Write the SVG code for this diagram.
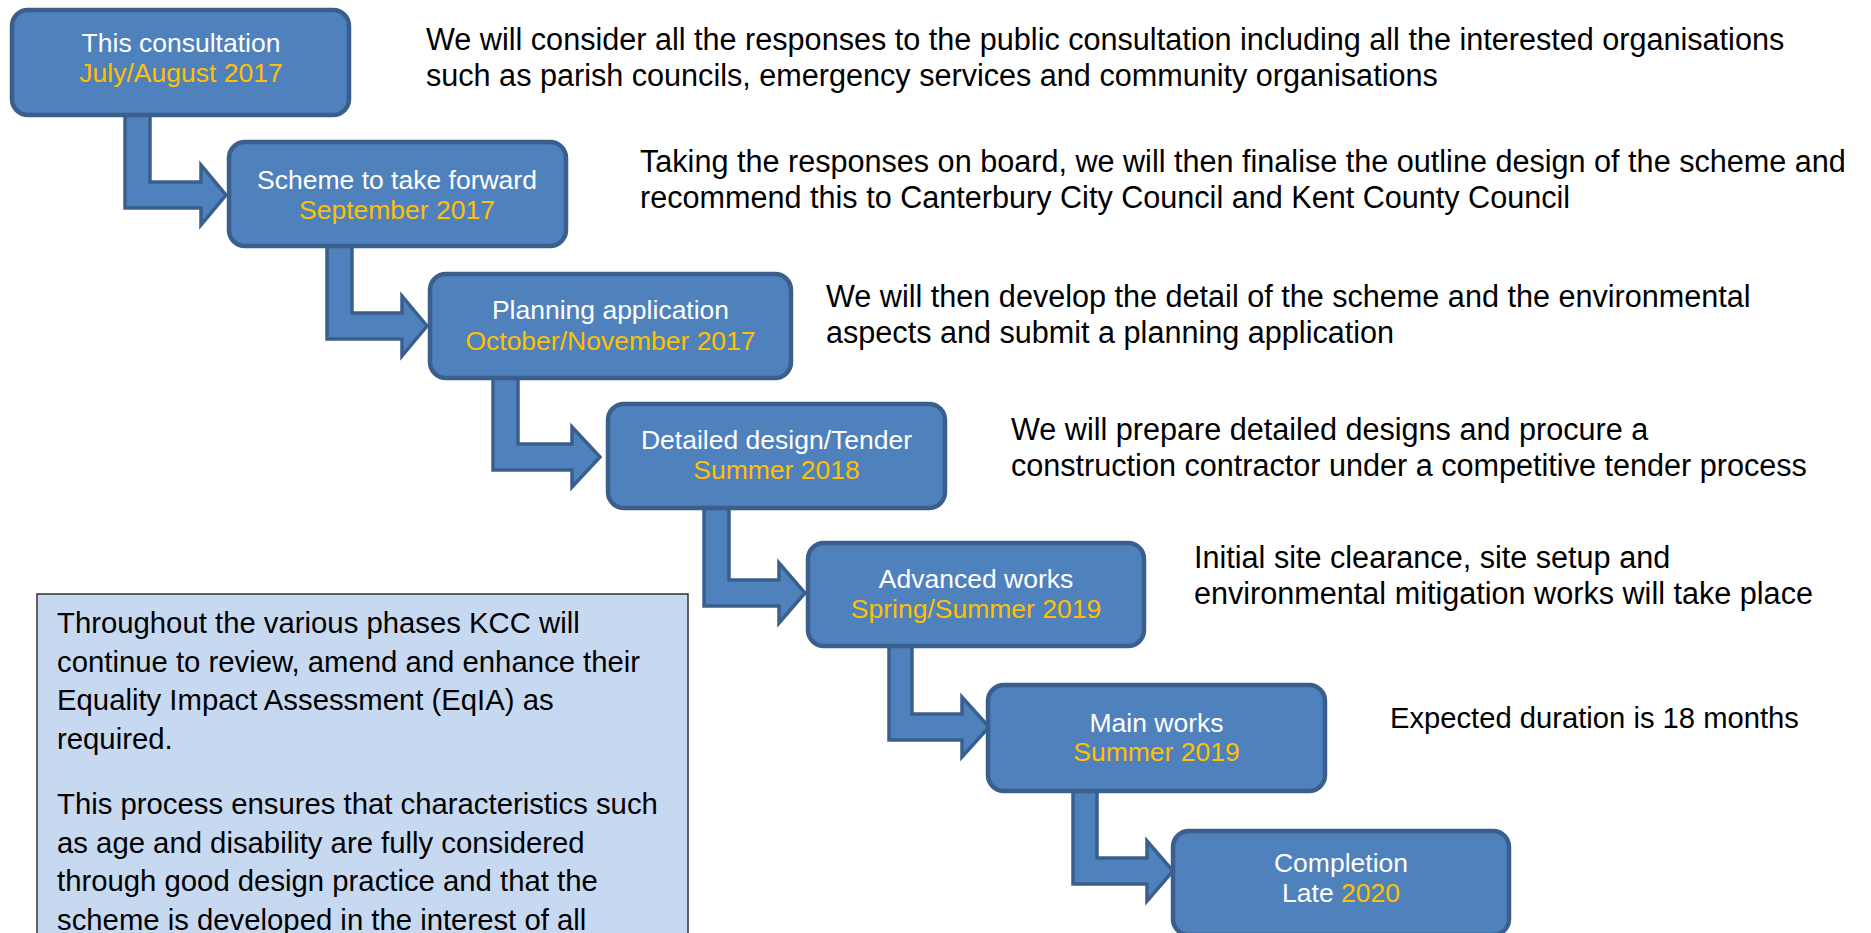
<svg xmlns="http://www.w3.org/2000/svg" width="1871" height="933" viewBox="0 0 1871 933">
<style>
.box{fill:#4F81BD;stroke:#3A5F8C;stroke-width:4.5}
.arr{fill:#4F81BD;stroke:#3A5F8C;stroke-width:3.5;stroke-linejoin:miter}
.bt{font-family:"Liberation Sans",Arial,sans-serif;font-size:26.5px;fill:#FFFFFF;text-anchor:middle}
.y{fill:#FFC000}
.rt{font-family:"Liberation Sans",Arial,sans-serif;font-size:30.6px;fill:#000000}
.nt{font-family:"Liberation Sans",Arial,sans-serif;font-size:29.3px;fill:#000000}
</style>
<rect width="1871" height="933" fill="#FFFFFF"/>
<g id="connectors">
<path class="arr" d="M125,110 V208 H201 V225 L226,195 L201,165 V182 H150 V110 Z"/>
<path class="arr" d="M327,240 V339 H402 V356 L427,326 L402,296 V313 H352 V240 Z"/>
<path class="arr" d="M493,372 V470 H572 V487 L600,457 L572,427 V444 H518 V372 Z"/>
<path class="arr" d="M704,500 V606 H779 V623 L805,593 L779,563 V580 H729 V500 Z"/>
<path class="arr" d="M889,640 V740 H962 V757 L989,727 L962,697 V714 H912 V640 Z"/>
<path class="arr" d="M1073,785 V884 H1147 V901 L1173,871 L1147,841 V858 H1097 V785 Z"/>
</g>
<g id="node1"><rect class="box" x="12" y="10" width="337" height="105" rx="16"/>
<text class="bt" x="181" y="52">This consultation</text><text class="bt y" x="181" y="82">July/August 2017</text></g>
<g id="node2"><rect class="box" x="229" y="142" width="337" height="104" rx="16"/>
<text class="bt" x="397" y="189">Scheme to take forward</text><text class="bt y" x="397" y="219">September 2017</text></g>
<g id="node3"><rect class="box" x="430" y="274" width="361" height="104" rx="16"/>
<text class="bt" x="610.5" y="319">Planning application</text><text class="bt y" x="610.5" y="350">October/November 2017</text></g>
<g id="node4"><rect class="box" x="608" y="404" width="337" height="104" rx="16"/>
<text class="bt" x="776.5" y="449">Detailed design/Tender</text><text class="bt y" x="776.5" y="479">Summer 2018</text></g>
<g id="node5"><rect class="box" x="808" y="543" width="336" height="103" rx="16"/>
<text class="bt" x="976" y="588">Advanced works</text><text class="bt y" x="976" y="618">Spring/Summer 2019</text></g>
<g id="node6"><rect class="box" x="988" y="685" width="337" height="106" rx="16"/>
<text class="bt" x="1156.5" y="732">Main works</text><text class="bt y" x="1156.5" y="761">Summer 2019</text></g>
<g id="node7"><rect class="box" x="1173" y="831" width="336" height="104" rx="16"/>
<text class="bt" x="1341" y="872">Completion</text><text class="bt" x="1341" y="902">Late <tspan class="y">2020</tspan></text></g>
<g id="descriptions">
<text class="rt" x="426" y="50">We will consider all the responses to the public consultation including all the interested organisations</text>
<text class="rt" x="426" y="86">such as parish councils, emergency services and community organisations</text>
<text class="rt" x="640" y="172">Taking the responses on board, we will then finalise the outline design of the scheme and</text>
<text class="rt" x="640" y="208">recommend this to Canterbury City Council and Kent County Council</text>
<text class="rt" x="826" y="307">We will then develop the detail of the scheme and the environmental</text>
<text class="rt" x="826" y="343">aspects and submit a planning application</text>
<text class="rt" x="1011" y="440">We will prepare detailed designs and procure a</text>
<text class="rt" x="1011" y="476">construction contractor under a competitive tender process</text>
<text class="rt" x="1194" y="568">Initial site clearance, site setup and</text>
<text class="rt" x="1194" y="604">environmental mitigation works will take place</text>
<text class="rt" x="1390" y="728" style="font-size:29.2px">Expected duration is 18 months</text>
</g>
<g id="note">
<rect x="37" y="594" width="651" height="360" fill="#C6D9F1" stroke="#333333" stroke-width="1.5"/>
<text class="nt" x="57" y="633">Throughout the various phases KCC will</text>
<text class="nt" x="57" y="671.5">continue to review, amend and enhance their</text>
<text class="nt" x="57" y="710">Equality Impact Assessment (EqIA) as</text>
<text class="nt" x="57" y="748.5">required.</text>
<text class="nt" x="57" y="814">This process ensures that characteristics such</text>
<text class="nt" x="57" y="852.5">as age and disability are fully considered</text>
<text class="nt" x="57" y="891">through good design practice and that the</text>
<text class="nt" x="57" y="929.5">scheme is developed in the interest of all</text>
</g>
</svg>
